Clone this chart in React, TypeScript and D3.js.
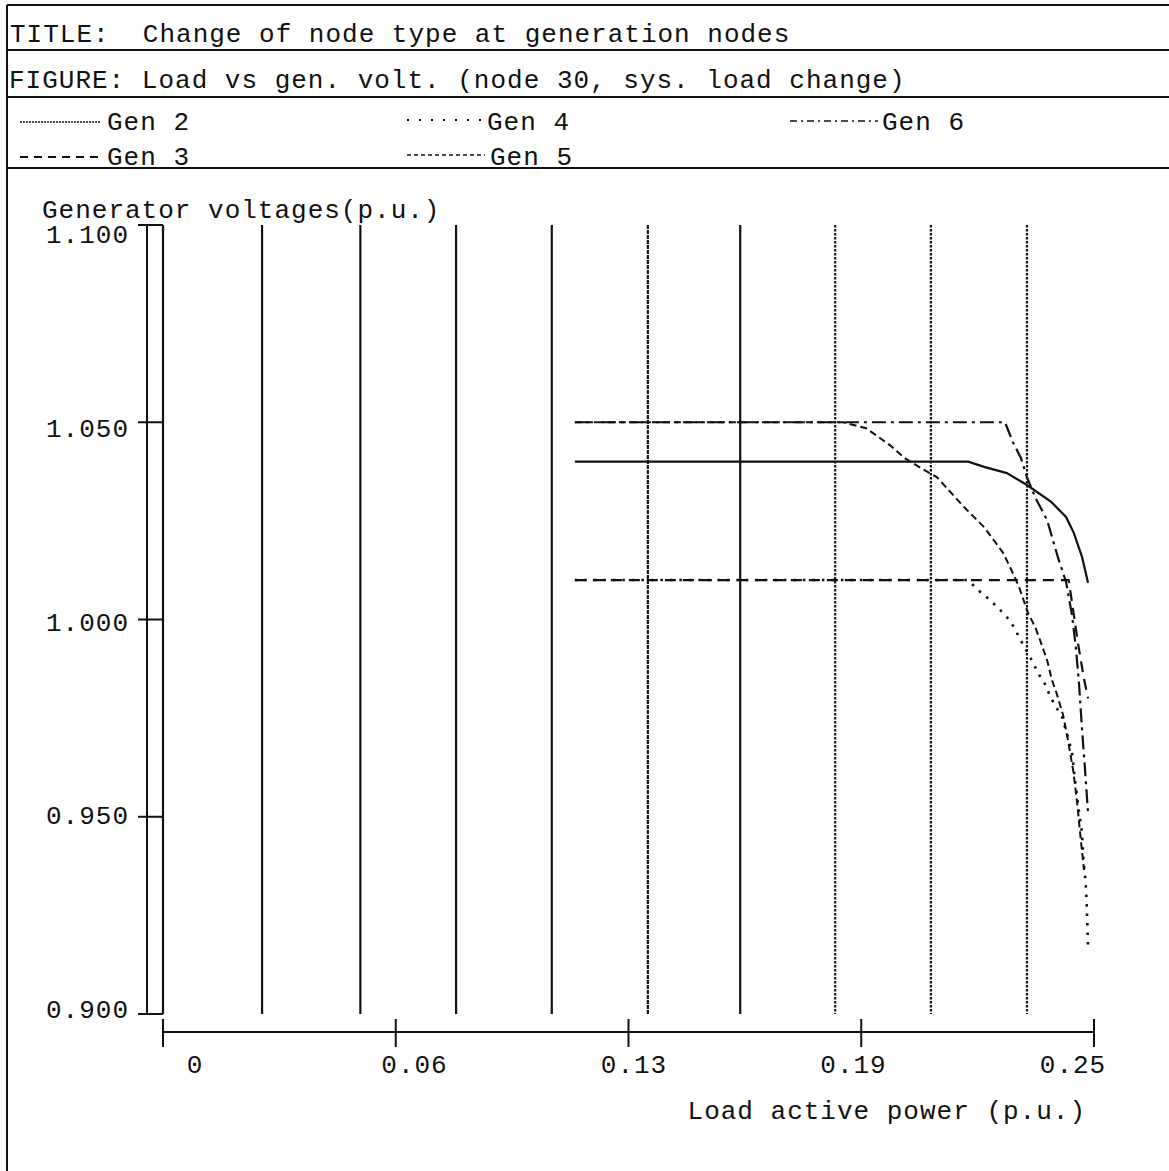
import React from "react";
import * as d3 from "d3";

const TITLE = "TITLE:  Change of node type at generation nodes";
const FIGURE = "FIGURE: Load vs gen. volt. (node 30, sys. load change)";
const Y_LABEL = "Generator voltages(p.u.)";
const X_LABEL = "Load active power (p.u.)";

const xTicks = [0, 0.0625, 0.125, 0.1875, 0.25];
const xTickLabels = ["0", "0.06", "0.13", "0.19", "0.25"];
const yTicks = [0.9, 0.95, 1.0, 1.05, 1.1];
const loadSteps = [0, 0.0266, 0.053, 0.0787, 0.1044, 0.1302, 0.155, 0.1805, 0.2062, 0.232];

const gen2Load = [0.1106, 0.2162, 0.2205, 0.2266, 0.232, 0.2385, 0.2425, 0.2446, 0.2468, 0.2484];
const gen2Volt = [1.04, 1.04, 1.0387, 1.0371, 1.0341, 1.0298, 1.026, 1.0219, 1.0158, 1.0093];

const gen3Load = [0.1106, 0.2432, 0.2443, 0.2457, 0.2473, 0.2484];
const gen3Volt = [1.01, 1.01, 1.003, 0.994, 0.985, 0.98];

const gen4Load = [0.1106, 0.2162, 0.2188, 0.2215, 0.224, 0.2266, 0.2285, 0.2301, 0.2334, 0.235, 0.2368, 0.2382, 0.2398, 0.2414, 0.243, 0.2441, 0.2449, 0.246, 0.2468, 0.2471, 0.2477, 0.248, 0.2482, 0.2484];
const gen4Volt = [1.01, 1.01, 1.0075, 1.0054, 1.0032, 1.0006, 0.9981, 0.9951, 0.9895, 0.9864, 0.9837, 0.9806, 0.9778, 0.9753, 0.9702, 0.9662, 0.9593, 0.951, 0.9459, 0.9398, 0.934, 0.9289, 0.9231, 0.917];

const gen5Load = [0.1106, 0.1826, 0.1888, 0.1952, 0.1992, 0.2035, 0.2078, 0.2151, 0.2205, 0.2256, 0.2282, 0.2299, 0.2323, 0.2342, 0.2355, 0.2374, 0.2387, 0.2401, 0.2417, 0.243, 0.2444, 0.2454, 0.2462, 0.2473];
const gen5Volt = [1.05, 1.05, 1.0485, 1.0442, 1.0409, 1.0384, 1.0361, 1.0285, 1.0234, 1.0169, 1.0118, 1.0082, 1.0016, 0.9981, 0.9948, 0.9897, 0.9847, 0.9809, 0.9758, 0.9695, 0.9618, 0.9542, 0.9466, 0.9365];

const gen6Load = [0.1106, 0.2261, 0.2282, 0.2304, 0.232, 0.2342, 0.2374, 0.2403, 0.2425, 0.2441, 0.2452, 0.246, 0.2468, 0.2476, 0.2484];
const gen6Volt = [1.05, 1.05, 1.045, 1.0409, 1.0361, 1.031, 1.0252, 1.0158, 1.0095, 1.0011, 0.9923, 0.9834, 0.972, 0.9618, 0.9509];

const seriesNames = ["Gen 2", "Gen 3", "Gen 4", "Gen 5", "Gen 6"];

const FONT = "'Liberation Mono', 'DejaVu Sans Mono', monospace";
const INK = "#111";

type Pt = [number, number];
const zip = (a: number[], b: number[]): Pt[] => a.map((v, i) => [v, b[i]]);

export default function App() {
  const W = 1169;
  const H = 1171;
  const left = 163;
  const right = 1094;
  const top = 225;
  const bottom = 1014;
  const yAxisX = 147;
  const xAxisY = 1032;

  const x = d3.scaleLinear().domain([0, 0.25]).range([left, right]);
  const xLab = d3.scaleLinear().domain([0, 0.25]).range([195, 1073]);
  const y = d3.scaleLinear().domain([0.9, 1.1]).range([bottom, top]);
  const yLab = d3.scaleLinear().domain([0.9, 1.1]).range([1018, 243]);
  const line = d3
    .line<Pt>()
    .x((d) => x(d[0]))
    .y((d) => y(d[1]))
    .curve(d3.curveLinear);

  const series = [
    { name: seriesNames[0], data: zip(gen2Load, gen2Volt), dash: "none", w: 2.2 },
    { name: seriesNames[1], data: zip(gen3Load, gen3Volt), dash: "11,7", w: 2.2 },
    { name: seriesNames[2], data: zip(gen4Load, gen4Volt), dash: "2.5,7", w: 2.6 },
    { name: seriesNames[3], data: zip(gen5Load, gen5Volt), dash: "7,4", w: 2 },
    { name: seriesNames[4], data: zip(gen6Load, gen6Volt), dash: "14,5,3,5", w: 2.2 },
  ];

  const legend = [
    { i: 0, x0: 20, x1: 100, y: 122, tx: 107, ty: 130, dash: "2,1", w: 1.3 },
    { i: 1, x0: 20, x1: 100, y: 157, tx: 107, ty: 165, dash: "8,6", w: 2 },
    { i: 2, x0: 407, x1: 482, y: 120, tx: 487, ty: 130, dash: "2,10", w: 2 },
    { i: 3, x0: 407, x1: 485, y: 155, tx: 490, ty: 165, dash: "4,3", w: 1.6 },
    { i: 4, x0: 790, x1: 878, y: 121, tx: 882, ty: 130, dash: "7,4,2,4", w: 1.6 },
  ];

  const fmtY = d3.format(".3f");
  const textStyle: React.CSSProperties = {
    fontFamily: FONT,
    fontSize: 26,
    letterSpacing: 1.0,
    whiteSpace: "pre",
  };

  return (
    <svg
      width={W}
      height={H}
      viewBox={`0 0 ${W} ${H}`}
      style={{ position: "absolute", left: 0, top: 0, display: "block", background: "#fff" }}
    >
      <rect x={0} y={0} width={W} height={H} fill="#fff" />
      {/* frame */}
      <g stroke={INK} strokeWidth={2} fill="none">
        <line x1={7} y1={5} x2={7} y2={H} />
        {[5, 50, 97, 168].map((yy) => (
          <line key={yy} x1={7} y1={yy} x2={W} y2={yy} />
        ))}
      </g>
      <g fill={INK} style={textStyle}>
        <text x={10} y={42} xmlSpace="preserve">{TITLE}</text>
        <text x={9} y={88} xmlSpace="preserve">{FIGURE}</text>
      </g>
      {/* legend */}
      {legend.map((l) => (
        <g key={l.i}>
          <line x1={l.x0} x2={l.x1} y1={l.y} y2={l.y} stroke={INK} strokeWidth={l.w} strokeDasharray={l.dash} />
          <text x={l.tx} y={l.ty} fill={INK} style={textStyle}>
            {series[l.i].name}
          </text>
        </g>
      ))}

      {/* axis titles */}
      <text x={42} y={218} fill={INK} style={textStyle}>{Y_LABEL}</text>
      <text x={1086} y={1119} textAnchor="end" fill={INK} style={textStyle}>{X_LABEL}</text>

      {/* load step verticals */}
      <g stroke={INK} strokeWidth={2.2}>
        {loadSteps.map((s, i) => (
          <line
            key={i}
            x1={x(s)}
            x2={x(s)}
            y1={top}
            y2={bottom}
            strokeDasharray={i >= 7 ? "2.5,1.5" : i === 5 ? "4,1" : "none"}
          />
        ))}
      </g>

      {/* y axis */}
      <g stroke={INK} strokeWidth={2}>
        <line x1={yAxisX} x2={yAxisX} y1={top} y2={bottom} />
        {yTicks.map((t) => (
          <line key={t} x1={138} x2={left} y1={y(t)} y2={y(t)} />
        ))}
      </g>
      <g fill={INK} style={textStyle}>
        {yTicks.map((t) => (
          <text key={t} x={129} y={yLab(t)} textAnchor="end">
            {fmtY(t)}
          </text>
        ))}
      </g>

      {/* x axis */}
      <g stroke={INK} strokeWidth={2}>
        <line x1={left} x2={right} y1={xAxisY} y2={xAxisY} />
        {xTicks.map((t) => (
          <line key={t} x1={x(t)} x2={x(t)} y1={xAxisY - 13} y2={xAxisY + 15} />
        ))}
      </g>
      <g fill={INK} style={textStyle}>
        {xTicks.map((t, i) => (
          <text key={t} x={xLab(t)} y={1073} textAnchor="middle">
            {xTickLabels[i]}
          </text>
        ))}
      </g>

      {/* series */}
      <g fill="none" stroke={INK}>
        {series.map((s) => (
          <path key={s.name} d={line(s.data) || ""} strokeWidth={s.w} strokeDasharray={s.dash} />
        ))}
      </g>
    </svg>
  );
}
